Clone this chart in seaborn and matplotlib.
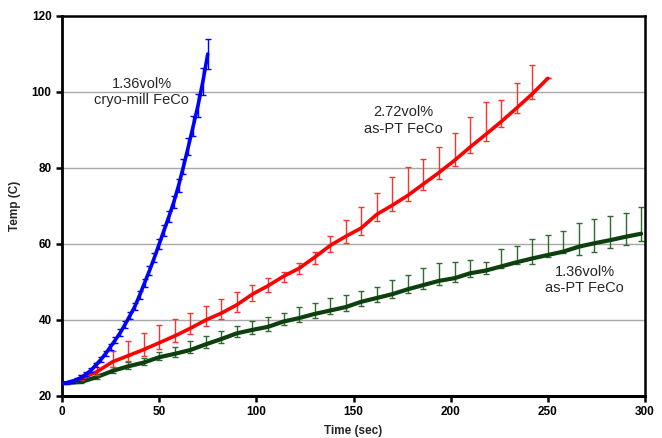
import numpy as np
import matplotlib
matplotlib.use("Agg")
import matplotlib.pyplot as plt
import seaborn as sns

# time axes (sec)
t_blue = [0, 2.5, 5, 7.5, 10, 12.5, 15, 17.5, 20, 22.5, 25, 27.5, 30, 32.5, 35, 37.5,
          40, 42.5, 45, 47.5, 50, 52.5, 55, 57.5, 60, 62.5, 65, 67.5, 70, 72.5, 75]
t_pt = [2, 10, 18, 26, 34, 42, 50, 58, 66, 74, 82, 90, 98, 106, 114, 122, 130, 138,
        146, 154, 162, 170, 178, 186, 194, 202, 210, 218, 226, 234, 242, 250, 258,
        266, 274, 282, 290, 298]

# 1.36vol% cryo-mill FeCo
blue_temp = [23.4, 23.5, 23.8, 24.3, 24.9, 25.8, 26.8, 28.2, 29.6, 31.2, 33.0, 34.8,
             36.7, 38.9, 41.2, 43.6, 46.6, 49.8, 53.0, 56.4, 60.0, 63.6, 67.2, 71.0,
             75.4, 80.4, 85.6, 91.0, 96.5, 102.8, 110.0]
blue_err = [0.3, 0.3, 0.4, 0.4, 0.5, 0.5, 0.6, 0.6, 0.7, 0.7, 0.8, 0.8, 0.9, 0.9, 1.0,
            1.0, 1.1, 1.1, 1.2, 1.2, 1.3, 1.4, 1.5, 1.6, 1.8, 2.0, 2.3, 2.6, 3.0, 3.5, 4.0]

# 2.72vol% as-PT FeCo (ends at 250 s)
red_temp = [23.4, 24.6, 26.4, 29.0, 30.6, 32.2, 34.0, 35.8, 37.8, 40.0, 41.8, 44.0,
            46.8, 49.0, 51.5, 53.6, 56.5, 59.6, 62.0, 64.2, 67.8, 70.2, 72.8, 75.8,
            78.8, 82.0, 85.5, 88.8, 92.2, 95.8, 99.5, 103.6]
red_up = [0.3, 0.8, 2.2, 2.9, 4.0, 4.3, 4.7, 4.5, 4.1, 3.7, 3.7, 3.4, 2.4, 2.0, 1.2,
          1.3, 1.5, 2.4, 4.3, 5.6, 5.6, 7.3, 7.5, 6.6, 6.8, 7.3, 8.0, 8.5, 5.6, 6.6,
          7.6, 0.0]
red_lo = [0.2, 0.5, 1.0, 1.3, 1.5, 1.7, 1.6, 1.5, 1.6, 1.5, 1.6, 1.8, 1.8, 1.7, 1.6,
          1.6, 1.7, 1.8, 1.8, 1.8, 1.7, 1.6, 1.5, 1.6, 1.6, 1.5, 1.6, 1.6, 1.5, 1.4,
          1.4, 0.0]

# 1.36vol% as-PT FeCo
green_temp = [23.4, 23.7, 25.0, 26.6, 27.8, 28.8, 30.2, 31.1, 32.1, 33.6, 35.0, 36.5,
              37.4, 38.2, 39.6, 40.5, 41.6, 42.5, 43.4, 44.8, 45.8, 46.8, 48.1, 49.2,
              50.3, 51.0, 52.3, 53.0, 54.1, 55.2, 56.2, 57.1, 58.0, 59.3, 60.2, 61.0,
              61.9, 62.7]
green_up = [0.2, 0.4, 0.8, 1.0, 1.2, 1.3, 1.5, 1.8, 2.3, 2.3, 2.0, 2.0, 2.4, 2.5, 2.2,
            2.8, 3.0, 3.2, 3.3, 2.9, 3.0, 3.7, 3.7, 4.4, 4.8, 4.3, 3.5, 2.3, 4.5, 4.3,
            5.1, 5.3, 5.5, 6.1, 6.5, 6.4, 6.3, 7.0]
green_lo = [0.1, 0.2, 0.4, 0.5, 0.6, 0.7, 0.8, 0.8, 0.9, 1.0, 1.0, 1.0, 1.0, 1.0, 1.0,
            1.0, 1.0, 1.0, 1.0, 1.0, 1.0, 1.0, 1.0, 1.0, 1.0, 1.0, 1.0, 1.0, 0.5, 0.5,
            1.5, 0.6, 0.5, 2.2, 2.2, 2.1, 2.2, 2.0]

sns.set_style("ticks")
plt.rcParams['font.family'] = ['Liberation Sans', 'DejaVu Sans']

fig = plt.figure(figsize=(6.62, 4.38), dpi=100)
ax = fig.add_axes([0.0937, 0.0959, 0.8806, 0.8676])

ax.set_xlim(0, 300)
ax.set_ylim(20, 120)
ax.set_xticks(range(0, 301, 50))
ax.set_yticks(range(20, 121, 20))
for yv in [40, 60, 80, 100]:
    ax.axhline(yv, color="#a8a8a8", linewidth=1.0, zorder=0)

# green series
ax.errorbar(t_pt, green_temp, yerr=[green_lo, green_up], fmt='none',
            ecolor="#2f6a2f", elinewidth=1.0, capsize=2.5, capthick=1.0, zorder=2)
sns.lineplot(x=t_pt, y=green_temp, color="#0e3f0e", linewidth=3.0, ax=ax,
             sort=False, zorder=3)

# red series
ax.errorbar(t_pt[:len(red_temp)], red_temp, yerr=[red_lo, red_up], fmt='none',
            ecolor="#ff3030", elinewidth=1.0, capsize=2.5, capthick=1.0, zorder=4)
sns.lineplot(x=t_pt[:len(red_temp)], y=red_temp, color="#ff0000", linewidth=2.6,
             ax=ax, sort=False, zorder=5)

# blue series
ax.errorbar(t_blue, blue_temp, yerr=blue_err, fmt='none', ecolor="#0000ff",
            elinewidth=1.0, capsize=2.5, capthick=1.0, zorder=6)
sns.lineplot(x=t_blue, y=blue_temp, color="#0000ff", linewidth=2.6, ax=ax,
             sort=False, zorder=7)

ax.text(41, 100, "1.36vol%\ncryo-mill FeCo", ha="center", va="center",
        fontsize=10.5, linespacing=1.25)
ax.text(175.5, 92.4, "2.72vol%\nas-PT FeCo", ha="center", va="center",
        fontsize=10.5, linespacing=1.25)
ax.text(269, 50.5, "1.36vol%\nas-PT FeCo", ha="center", va="center",
        fontsize=10.5, linespacing=1.25)

for side in ["left", "bottom", "top", "right"]:
    ax.spines[side].set_visible(True)
    ax.spines[side].set_color("black")
ax.spines["left"].set_linewidth(2.0)
ax.spines["bottom"].set_linewidth(2.2)
ax.spines["top"].set_linewidth(1.8)
ax.spines["right"].set_linewidth(1.8)

ax.tick_params(axis="both", direction="out", length=4, width=1.8, colors="black",
               labelsize=8.5)
for lab in ax.get_xticklabels() + ax.get_yticklabels():
    lab.set_fontweight("bold")

ax.set_xlabel("Time (sec)", fontsize=8.5, fontweight="bold", labelpad=5)
ax.set_ylabel("Temp (C)", fontsize=8.5, fontweight="bold", labelpad=8)

fig.savefig("out.png", dpi=100)
